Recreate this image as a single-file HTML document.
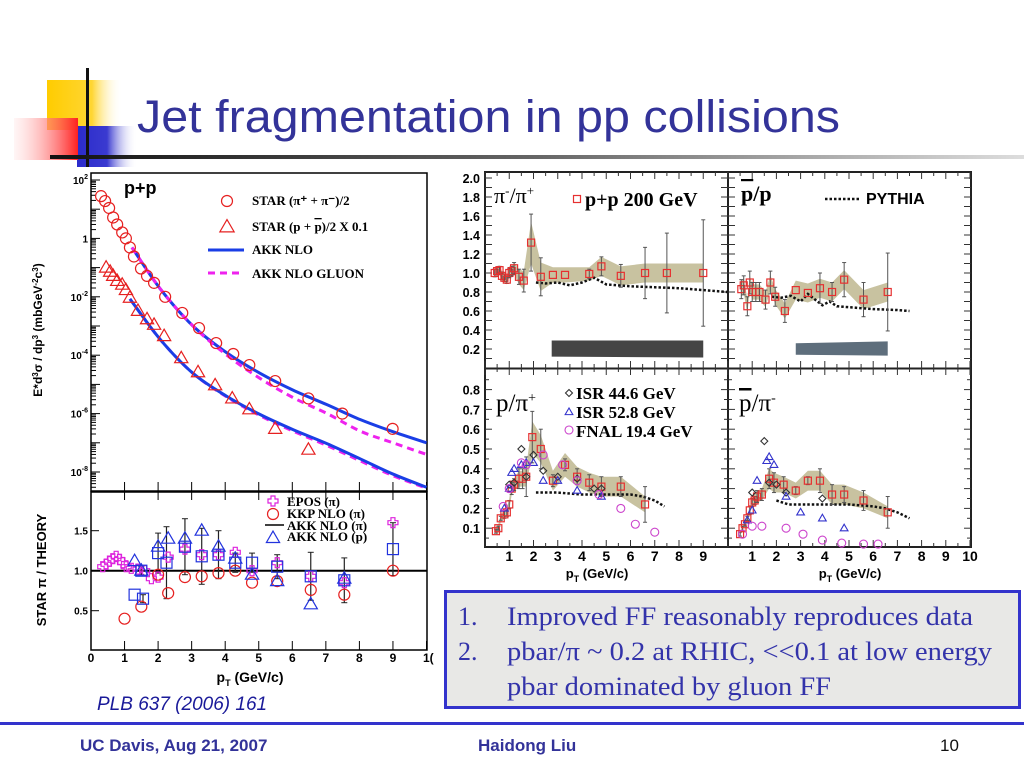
<!DOCTYPE html>
<html><head><meta charset="utf-8">
<style>
html,body{margin:0;padding:0;background:#fff;}
svg{display:block;}
text{font-family:"Liberation Sans",sans-serif;}
.tm{font-family:"Liberation Serif",serif;}
</style></head>
<body>
<svg id="s" width="1024" height="768" viewBox="0 0 1024 768" xmlns="http://www.w3.org/2000/svg">
<defs>
<linearGradient id="gy" x1="0" x2="1"><stop offset="0" stop-color="#ffcc00"/><stop offset="0.6" stop-color="#ffd633"/><stop offset="1" stop-color="#fff" stop-opacity="0"/></linearGradient>
<linearGradient id="gr" x1="1" x2="0"><stop offset="0" stop-color="#ff2020"/><stop offset="1" stop-color="#ffe0e0" stop-opacity="0.3"/></linearGradient>
<linearGradient id="gb" x1="0" x2="1"><stop offset="0" stop-color="#2b2bcc"/><stop offset="0.5" stop-color="#3a3ad0"/><stop offset="1" stop-color="#fff" stop-opacity="0"/></linearGradient>
<linearGradient id="gl" x1="0" x2="1"><stop offset="0" stop-color="#111"/><stop offset="0.5" stop-color="#666"/><stop offset="1" stop-color="#ddd"/></linearGradient>
</defs>
<g>
<rect x="47" y="80" width="75" height="50" fill="url(#gy)"/>
<rect x="77" y="126" width="60" height="44" fill="url(#gb)"/>
<rect x="14" y="118" width="64" height="42" fill="url(#gr)"/>
<rect x="86" y="68" width="3" height="104" fill="#111"/>
<rect x="50" y="155" width="974" height="4" fill="url(#gl)"/>
</g>
<text x="137" y="132" font-size="45" fill="#333399" textLength="703" lengthAdjust="spacingAndGlyphs">Jet fragmentation in pp collisions</text>

<rect x="62" y="167" width="370" height="525" fill="#fff"/>
<rect x="443" y="167" width="547" height="422" fill="#fff"/>
<g id="L"></g>
<g id="R"></g>
<g id="P"></g>

<text x="97" y="710" font-size="19" font-style="italic" fill="#1a1a99">PLB 637 (2006) 161</text>

<g>
<rect x="445.5" y="591.5" width="574" height="116" fill="#e8e8e6" stroke="#3333cc" stroke-width="3"/>
<text class="tm" x="458" y="625" font-size="26" fill="#3333aa">1.</text>
<text class="tm" x="507" y="625" font-size="26" fill="#3333aa" textLength="466" lengthAdjust="spacingAndGlyphs">Improved FF reasonably reproduces data</text>
<text class="tm" x="458" y="660" font-size="26" fill="#3333aa">2.</text>
<text class="tm" x="507" y="660" font-size="26" fill="#3333aa" textLength="485" lengthAdjust="spacingAndGlyphs">pbar/π ~ 0.2 at RHIC, &lt;&lt;0.1 at low energy</text>
<text class="tm" x="507" y="695" font-size="26" fill="#3333aa" textLength="324" lengthAdjust="spacingAndGlyphs">pbar dominated by gluon FF</text>
</g>

<rect x="0" y="722" width="1024" height="3" fill="#3333cc"/>
<text x="80" y="751" font-size="17" font-weight="bold" fill="#333399">UC Davis, Aug 21, 2007</text>
<text x="478" y="751" font-size="17" font-weight="bold" fill="#333399">Haidong Liu</text>
<text x="940" y="751" font-size="17" fill="#111">10</text>
</svg>
<script>
// ===== Left spectra data =====
const piPt=[0.3,0.42,0.54,0.66,0.78,0.93,1.04,1.16,1.28,1.49,1.67,1.88,2.21,2.72,3.22,3.73,4.24,4.72,5.49,6.48,7.49,8.99];
const piVal=[28,19,11,5.2,3.0,1.6,1.0,0.49,0.24,0.093,0.052,0.030,0.010,0.0028,8.5e-4,2.6e-4,1.1e-4,4.6e-5,1.3e-5,3.3e-6,1.0e-6,3.0e-7];
const prPt=[0.45,0.57,0.66,0.78,0.93,1.04,1.16,1.40,1.67,1.88,2.18,2.69,3.19,3.70,4.21,4.72,5.49,6.48];
const prVal=[0.1,0.072,0.052,0.035,0.026,0.017,0.0093,0.0033,0.0017,0.0011,4.5e-4,7.9e-5,2.6e-5,9.3e-6,3.3e-6,1.4e-6,3.0e-7,5.8e-8];
const curvePt=[1.22,2.06,3.04,4.05,5.04,6.03,7.04,8.03,9.0,10];
const akkPi=[0.49,0.019,1.0e-3,1.2e-4,2.4e-5,6.3e-6,2.0e-6,6.2e-7,2.4e-7,1.0e-7];
const gluPi=[0.49,0.019,1.0e-3,1.0e-4,1.6e-5,3.5e-6,1.0e-6,2.5e-7,1.0e-7,4.0e-8];
const curvePt2=[1.16,2.06,3.04,4.05,5.04,6.03,7.04,8.03,9.0,10];
const akkPr=[8.5e-3,3.5e-4,2.4e-5,3.9e-6,9.3e-7,2.8e-7,9.3e-8,2.8e-8,8.5e-9,3.0e-9];
const gluPr=[8.5e-3,3.5e-4,2.4e-5,3.7e-6,8.5e-7,2.5e-7,8.0e-8,2.4e-8,7.5e-9,2.8e-9];
const logTicks=[2,0,-2,-4,-6,-8];
// ===== Left ratio data =====
const sqPt=[1.3,1.55,1.5,2.0,2.25,2.8,3.3,3.8,4.3,4.8,5.55,6.55,7.55,9.0];
const sqVal=[0.7,0.65,1.0,1.22,1.1,1.3,1.18,1.2,1.1,1.1,1.05,0.93,0.88,1.27];
const sqErr=[0,0.05,0.05,0.25,0.45,0.35,0.35,0.3,0.12,0.12,0.15,0.3,0.28,0.33];
const ciPt=[1.0,1.5,2.0,2.3,2.8,3.3,3.8,4.3,4.8,5.55,6.55,7.55,9.0];
const ciVal=[0.4,0.55,0.95,0.72,0.92,0.93,0.97,1.0,0.85,0.87,0.76,0.7,1.0];
const crPt=[0.35,0.45,0.55,0.65,0.75,0.85,0.95,1.05,1.2,1.4,1.6,1.8,2.0,2.3,2.8,3.3,3.8,4.3,4.8,5.55,6.55,7.55,9.0];
const crVal=[1.05,1.08,1.12,1.15,1.18,1.14,1.1,1.05,1.03,1.02,1.0,0.9,0.92,1.17,1.27,1.2,1.2,1.23,1.0,1.1,0.93,0.85,1.6];
const trPt=[1.3,1.5,2.0,2.3,2.8,3.3,3.8,4.3,4.8,5.55,6.55,7.55];
const trVal=[1.12,1.0,1.3,1.4,1.4,1.5,1.3,1.15,0.95,0.87,0.58,0.9];
const ratioTicks=[0.5,1.0,1.5];
const xTicks=[0,1,2,3,4,5,6,7,8,9,10];
// ===== Right: pi-/pi+ =====
const aPt=[0.4,0.5,0.6,0.7,0.8,0.9,1.0,1.1,1.2,1.4,1.6,1.9,2.3,2.8,3.3,4.3,4.8,5.6,6.6,7.5,9.0];
const aVal=[1.0,1.02,1.03,0.97,0.95,0.93,1.0,1.02,1.05,0.96,0.92,1.32,0.96,0.98,0.98,0.99,1.07,0.97,1.0,1.0,1.0];
const aErr=[0.04,0.04,0.04,0.04,0.04,0.04,0.05,0.05,0.06,0.08,0.12,0.3,0.2,0,0,0.05,0.1,0.12,0.27,0.42,0.56];
const aBand=[0.05,0.05,0.05,0.05,0.05,0.05,0.05,0.05,0.06,0.08,0.1,0.22,0.15,0.08,0.08,0.07,0.1,0.1,0.1,0.1,0.1];
const aPyPt=[2.1,2.5,3,3.5,4,4.5,5,6,7,8,9,10];
const aPy=[0.9,0.89,0.9,0.87,0.9,0.95,0.88,0.86,0.85,0.84,0.82,0.8];
// ===== pbar/p =====
const bPt=[0.55,0.65,0.8,0.9,1.0,1.15,1.3,1.55,1.75,1.95,2.35,2.8,3.3,3.8,4.3,4.8,5.6,6.6];
const bVal=[0.83,0.87,0.65,0.9,0.8,0.8,0.8,0.72,0.9,0.75,0.6,0.82,0.79,0.84,0.8,0.93,0.72,0.8];
const bErr=[0.1,0.1,0.1,0.12,0.1,0.1,0.1,0.1,0.12,0.1,0.12,0,0,0.16,0.1,0.18,0.18,0.41];
const bBand=[0.08,0.08,0.08,0.08,0.08,0.08,0.08,0.08,0.08,0.08,0.08,0.1,0.1,0.1,0.1,0.1,0.1,0.1];
const bPyPt=[1.8,2.2,2.6,3.0,3.3,3.6,3.9,4.2,4.5,5,6,7,7.5];
const bPy=[0.75,0.74,0.76,0.7,0.78,0.72,0.66,0.7,0.65,0.64,0.62,0.61,0.6];
// ===== p/pi+ =====
const cPt=[0.45,0.55,0.65,0.8,0.9,1.0,1.1,1.2,1.4,1.55,1.7,1.95,2.3,2.8,3.3,3.8,4.3,4.8,5.6,6.6];
const cVal=[0.085,0.1,0.15,0.17,0.18,0.22,0.3,0.32,0.35,0.35,0.36,0.56,0.5,0.34,0.42,0.36,0.33,0.31,0.31,0.22];
const cErr=[0.01,0.01,0.01,0.02,0.02,0.02,0.03,0.03,0.05,0.05,0.1,0.13,0.1,0.03,0.03,0.04,0.04,0.05,0.05,0.09];
const cBand=[0.02,0.02,0.02,0.02,0.02,0.03,0.03,0.03,0.04,0.04,0.05,0.08,0.07,0.05,0.06,0.05,0.05,0.05,0.05,0.04];
const cIsr1Pt=[1.0,1.2,1.5,1.7,2.0,2.4,3.0,3.8,4.5,4.8];
const cIsr1=[0.32,0.33,0.5,0.36,0.47,0.39,0.36,0.35,0.3,0.3];
const cIsr2Pt=[0.8,1.0,1.1,1.2,1.5,1.7,2.0,2.4,3.0,3.8,4.8];
const cIsr2=[0.2,0.3,0.38,0.4,0.42,0.43,0.43,0.34,0.34,0.29,0.26];
const cFnPt=[0.75,1.0,1.5,1.7,2.4,3.2,3.8,4.7,5.6,6.2,7.0];
const cFn=[0.21,0.3,0.43,0.42,0.47,0.42,0.34,0.27,0.2,0.12,0.08];
const cPyPt=[2.1,3,4,5,6,6.5,7,7.4];
const cPy=[0.28,0.28,0.27,0.27,0.27,0.26,0.24,0.21];
// ===== pbar/pi- =====
const dPt=[0.5,0.6,0.7,0.8,0.9,1.0,1.1,1.2,1.4,1.7,1.9,2.3,2.8,3.3,3.8,4.3,4.8,5.6,6.6];
const dVal=[0.07,0.1,0.12,0.15,0.19,0.23,0.24,0.26,0.27,0.35,0.33,0.32,0.29,0.34,0.34,0.27,0.27,0.24,0.18];
const dErr=[0.01,0.01,0.01,0.01,0.02,0.02,0.02,0.03,0.03,0.05,0.05,0.04,0.02,0.02,0.06,0.05,0.04,0.05,0.08];
const dBand=[0.01,0.01,0.01,0.02,0.02,0.02,0.03,0.03,0.03,0.05,0.05,0.04,0.04,0.05,0.05,0.05,0.05,0.04,0.03];
const dIsr1Pt=[1.0,1.5,1.7,2.0,2.4,3.9];
const dIsr1=[0.28,0.54,0.33,0.32,0.28,0.25];
const dIsr2Pt=[0.8,1.0,1.2,1.6,1.7,1.9,2.4,3.0,3.9,4.8];
const dIsr2=[0.14,0.19,0.34,0.44,0.46,0.42,0.26,0.18,0.15,0.1];
const dFnPt=[0.6,1.0,1.4,2.4,3.1,3.9,4.7,5.6,6.2];
const dFn=[0.07,0.11,0.11,0.1,0.07,0.04,0.025,0.02,0.02];
const dPyPt=[2.0,2.5,3,4,5,6,6.5,7,7.5];
const dPy=[0.24,0.22,0.22,0.22,0.22,0.21,0.2,0.18,0.15];
const topTicks=[0.2,0.4,0.6,0.8,1.0,1.2,1.4,1.6,1.8,2.0];
const botTicks=[0.1,0.2,0.3,0.4,0.5,0.6,0.7,0.8];

const NS='http://www.w3.org/2000/svg';
function mk(parent,tag,attrs,txt){const e=document.createElementNS(NS,tag);for(const k in attrs)e.setAttribute(k,attrs[k]);if(txt!==undefined)e.textContent=txt;parent.appendChild(e);return e;}
function smooth(pts){let d='M'+pts[0][0]+','+pts[0][1];for(let i=0;i<pts.length-1;i++){const p0=pts[i-1]||pts[i],p1=pts[i],p2=pts[i+1],p3=pts[i+2]||p2;d+=' C'+(p1[0]+(p2[0]-p0[0])/6)+','+(p1[1]+(p2[1]-p0[1])/6)+' '+(p2[0]-(p3[0]-p1[0])/6)+','+(p2[1]-(p3[1]-p1[1])/6)+' '+p2[0]+','+p2[1];}return d;}
function marker(g,type,x,y,r,col,sw){
  let e;
  if(type==='circle')e=mk(g,'circle',{cx:x,cy:y,r:r,fill:'none',stroke:col,'stroke-width':sw});
  else if(type==='tri')e=mk(g,'polygon',{points:`${x},${y-r*1.15} ${x-r*1.1},${y+r*0.75} ${x+r*1.1},${y+r*0.75}`,fill:'none',stroke:col,'stroke-width':sw});
  else if(type==='square')e=mk(g,'rect',{x:x-r,y:y-r,width:2*r,height:2*r,fill:'none',stroke:col,'stroke-width':sw});
  else if(type==='cross'){const a=r*0.4;e=mk(g,'polygon',{points:`${x-a},${y-r} ${x+a},${y-r} ${x+a},${y-a} ${x+r},${y-a} ${x+r},${y+a} ${x+a},${y+a} ${x+a},${y+r} ${x-a},${y+r} ${x-a},${y+a} ${x-r},${y+a} ${x-r},${y-a} ${x-a},${y-a}`,fill:'none',stroke:col,'stroke-width':sw});}
  else if(type==='diamond')e=mk(g,'polygon',{points:`${x},${y-r} ${x+r},${y} ${x},${y+r} ${x-r},${y}`,fill:'none',stroke:col,'stroke-width':sw});
  return e;
}

// ===== LEFT SPECTRA =====
const L=document.getElementById('L');
const xL=p=>91+p*33.55;
const yU=v=>180-(Math.log10(v)-2)*29.2;
const yR=r=>570.7-(r-1)*80;
const frameU=mk(L,'rect',{x:91,y:173,width:336,height:318,fill:'none',stroke:'#000','stroke-width':1.5});


for(let dec=2;dec>=-9;dec--){for(let m=1;m<10;m++){const v=m*Math.pow(10,dec);const y=yU(v);if(y<174||y>490)continue;mk(L,'line',{x1:91,x2:91+(m===1?9:5),y1:y,y2:y,stroke:'#000','stroke-width':1});}}
logTicks.forEach(e=>{const y=yU(Math.pow(10,e));
  const t=mk(L,'text',{x:88,y:y+4,'font-size':10,'font-weight':'bold','text-anchor':'end'});
  
  
  if(e===0)t.textContent='1';else{t.textContent='10';mk(t,'tspan',{dy:-5,'font-size':7},String(e));}
});
xTicks.forEach(p=>{mk(L,'line',{x1:xL(p),x2:xL(p),y1:491,y2:482,stroke:'#000','stroke-width':1});});
const pp=mk(L,'text',{x:124,y:194,'font-size':18,'font-weight':'bold'},'p+p');


function curve(g,xs,vs,fx,fy,col,dash,name){const p=mk(g,'path',{d:smooth(xs.map((x,i)=>[fx(x),fy(vs[i])])),fill:'none',stroke:col,'stroke-width':3,'stroke-dasharray':dash||'none'});return p;}
curve(L,curvePt,akkPi,xL,yU,'#1a3ee6',null,'akk-nlo-pion-curve');
curve(L,curvePt,gluPi,xL,yU,'#ee22ee','7,5','akk-gluon-pion-curve');
curve(L,curvePt2,gluPr,xL,yU,'#ee22ee','7,5','akk-gluon-proton-curve');
curve(L,curvePt2,akkPr,xL,yU,'#1a3ee6',null,'akk-nlo-proton-curve');
piPt.forEach((p,i)=>{const m=marker(L,'circle',xL(p),yU(piVal[i]),5.5,'#e62020',1.2);
  
  });
prPt.forEach((p,i)=>{const m=marker(L,'tri',xL(p),yU(prVal[i]),6,'#e62020',1.2);
  
  });
// legend
const lg=mk(L,'g',{});


marker(lg,'circle',227,201,5.5,'#e62020',1.2);
mk(lg,'text',{class:'tm',x:252,y:205,'font-size':13,'font-weight':'bold'},'STAR (π⁺ + π⁻)/2');
marker(lg,'tri',227,227,6.5,'#e62020',1.2);
const t2=mk(lg,'text',{class:'tm',x:252,y:231,'font-size':13,'font-weight':'bold'},'STAR (p + ');
mk(t2,'tspan',{'text-decoration':'overline'},'p');mk(t2,'tspan',{},')/2 X 0.1');
mk(lg,'line',{x1:208,x2:244,y1:250,y2:250,stroke:'#1a3ee6','stroke-width':3});
mk(lg,'text',{class:'tm',x:252,y:254,'font-size':13,'font-weight':'bold'},'AKK  NLO');
mk(lg,'line',{x1:208,x2:244,y1:273,y2:273,stroke:'#ee22ee','stroke-width':3,'stroke-dasharray':'7,5'});
mk(lg,'text',{class:'tm',x:252,y:278,'font-size':13,'font-weight':'bold'},'AKK  NLO GLUON');
const yt=mk(L,'text',{x:0,y:0,'font-size':12,'font-weight':'bold','text-anchor':'middle',transform:'translate(42,330) rotate(-90)'});
yt.textContent='E*d';mk(yt,'tspan',{dy:-4,'font-size':8},'3');mk(yt,'tspan',{dy:4},'σ / dp');mk(yt,'tspan',{dy:-4,'font-size':8},'3');mk(yt,'tspan',{dy:4},' (mbGeV');mk(yt,'tspan',{dy:-4,'font-size':8},'-2');mk(yt,'tspan',{dy:4},'c');mk(yt,'tspan',{dy:-4,'font-size':8},'3');mk(yt,'tspan',{dy:4},')');



// ===== LEFT RATIO =====
const R=document.getElementById('R');
const fr=mk(R,'rect',{x:91,y:492,width:336,height:158,fill:'none',stroke:'#000','stroke-width':1.5});


xTicks.forEach(p=>{mk(R,'line',{x1:xL(p),x2:xL(p),y1:650,y2:641,stroke:'#000'});mk(R,'line',{x1:xL(p),x2:xL(p),y1:492,y2:500,stroke:'#000'});
  if(p<10){const t=mk(R,'text',{x:xL(p),y:662,'font-size':12,'font-weight':'bold','text-anchor':'middle'},String(p));
  
  }});
mk(R,'text',{x:423,y:662,'font-size':12,'font-weight':'bold'},'1(');
ratioTicks.forEach(r=>{mk(R,'line',{x1:91,x2:99,y1:yR(r),y2:yR(r),stroke:'#000'});
  const t=mk(R,'text',{x:88,y:yR(r)+4,'font-size':10,'font-weight':'bold','text-anchor':'end'},r.toFixed(1));
  
  });
const one=mk(R,'line',{x1:91,x2:427,y1:yR(1),y2:yR(1),stroke:'#000','stroke-width':2});


sqPt.forEach((p,i)=>{if(sqErr[i]>0){const x=xL(p);mk(R,'line',{x1:x,x2:x,y1:yR(sqVal[i]-sqErr[i]),y2:yR(sqVal[i]+sqErr[i]),stroke:'#222','stroke-width':1.2});
  mk(R,'line',{x1:x-3,x2:x+3,y1:yR(sqVal[i]-sqErr[i]),y2:yR(sqVal[i]-sqErr[i]),stroke:'#222'});mk(R,'line',{x1:x-3,x2:x+3,y1:yR(sqVal[i]+sqErr[i]),y2:yR(sqVal[i]+sqErr[i]),stroke:'#222'});}});
crPt.forEach((p,i)=>{const m=marker(R,'cross',xL(p),yR(crVal[i]),5,'#dd22dd',1.2);
  
  });
ciPt.forEach((p,i)=>{const m=marker(R,'circle',xL(p),yR(ciVal[i]),5.5,'#e62020',1.2);
  
  });
sqPt.forEach((p,i)=>{const m=marker(R,'square',xL(p),yR(sqVal[i]),5.5,'#2233dd',1.2);
  
  });
trPt.forEach((p,i)=>{const m=marker(R,'tri',xL(p),yR(trVal[i]),6,'#2233dd',1.2);
  
  });
const rl=mk(R,'g',{});


marker(rl,'cross',273,501,5,'#dd22dd',1.2);
mk(rl,'text',{class:'tm',x:287,y:506,'font-size':13,'font-weight':'bold'},'EPOS (π)');
marker(rl,'circle',273,514,5.5,'#e62020',1.2);
mk(rl,'text',{class:'tm',x:287,y:518,'font-size':13,'font-weight':'bold'},'KKP NLO (π)');
mk(rl,'line',{x1:265,x2:284,y1:525,y2:525,stroke:'#000','stroke-width':1.5});
mk(rl,'text',{class:'tm',x:287,y:530,'font-size':13,'font-weight':'bold'},'AKK NLO (π)');
marker(rl,'tri',273,538,6,'#2233dd',1.2);
mk(rl,'text',{class:'tm',x:287,y:541,'font-size':13,'font-weight':'bold'},'AKK NLO (p)');
const xt=mk(R,'text',{x:250,y:682,'font-size':14,'font-weight':'bold','text-anchor':'middle'},'p');
mk(xt,'tspan',{dy:4,'font-size':9},'T');mk(xt,'tspan',{dy:-4},' (GeV/c)');


const ry=mk(R,'text',{x:0,y:0,'font-size':13,'font-weight':'bold','text-anchor':'middle',transform:'translate(46,570) rotate(-90)'},'STAR π / THEORY');



// ===== RIGHT 4-PANEL =====
const P=document.getElementById('P');
const xA=p=>485+p*24.25, xB=p=>728+p*24.2;
const yT=v=>368-v*95, yB=v=>548-v*198;
const box=mk(P,'rect',{x:485,y:172,width:486,height:375,fill:'none',stroke:'#222','stroke-width':2});


mk(P,'line',{x1:485,x2:971,y1:368.5,y2:368.5,stroke:'#222','stroke-width':2});
mk(P,'line',{x1:728,x2:728,y1:172,y2:547,stroke:'#222','stroke-width':2});
// ticks
for(let p=0;p<=10;p+=0.5){[xA,xB].forEach(f=>{const x=f(p);const L2=p%1===0?7:4;
  [[172,172+L2],[368,368-L2],[368,368+L2],[547,547-L2]].forEach(a=>mk(P,'line',{x1:x,x2:x,y1:a[0],y2:a[1],stroke:'#333'}));});}
for(let v=0.1;v<2.05;v+=0.1){const y=yT(v);[[485,492],[728,721],[728,735],[971,964]].forEach(a=>mk(P,'line',{x1:a[0],x2:a[1],y1:y,y2:y,stroke:'#333'}));}
for(let v=0.05;v<0.9;v+=0.05){const y=yB(v);const L2=Math.round(v*100)%10===0?7:4;[[485,485+L2],[728,728-L2],[728,728+L2],[971,971-L2]].forEach(a=>mk(P,'line',{x1:a[0],x2:a[1],y1:y,y2:y,stroke:'#333'}));}
topTicks.forEach(v=>{const t=mk(P,'text',{x:480,y:yT(v)+5,'font-size':12.5,'font-weight':'bold','text-anchor':'end'},v.toFixed(1));
  
  });
botTicks.forEach(v=>{const t=mk(P,'text',{x:480,y:yB(v)+5,'font-size':12.5,'font-weight':'bold','text-anchor':'end'},v.toFixed(1));
  
  });
[1,2,3,4,5,6,7,8,9].forEach(p=>{const t=mk(P,'text',{x:xA(p),y:561,'font-size':14,'font-weight':'bold','text-anchor':'middle'},String(p));
  
  });
[1,2,3,4,5,6,7,8,9,10].forEach(p=>{const t=mk(P,'text',{x:xB(p),y:561,'font-size':14,'font-weight':'bold','text-anchor':'middle'},String(p));
  
  });
[597,850].forEach(cx=>{const t=mk(P,'text',{x:cx,y:578,'font-size':13,'font-weight':'bold','text-anchor':'middle'},'p');
  mk(t,'tspan',{dy:4,'font-size':9},'T');mk(t,'tspan',{dy:-4},' (GeV/c)');
  
  });

function panel(name,fx,fy,pt,val,err,band,pyPt,py){
  const g=mk(P,'g',{});
  
  
  const up=pt.map((p,i)=>fx(p)+','+fy(val[i]+band[i])),dn=pt.map((p,i)=>fx(p)+','+fy(val[i]-band[i])).reverse();
  const bd=mk(g,'polygon',{points:up.concat(dn).join(' '),fill:'#c8c2a0'});
  
  
  const pl=mk(g,'polyline',{points:pyPt.map((p,i)=>fx(p)+','+fy(py[i])).join(' '),fill:'none',stroke:'#111','stroke-width':2.5,'stroke-dasharray':'2.5,2'});
  
  
  pt.forEach((p,i)=>{const x=fx(p);if(err[i]>0){mk(g,'line',{x1:x,x2:x,y1:fy(val[i]-err[i]),y2:fy(val[i]+err[i]),stroke:'#555','stroke-width':1});
    mk(g,'line',{x1:x-2,x2:x+2,y1:fy(val[i]-err[i]),y2:fy(val[i]-err[i]),stroke:'#555'});mk(g,'line',{x1:x-2,x2:x+2,y1:fy(val[i]+err[i]),y2:fy(val[i]+err[i]),stroke:'#555'});}
    const m=marker(g,'square',x,fy(val[i]),3.5,'#e63030',1.2);
    
    });
  return g;
}
// systematic bars
const sb1=mk(P,'polygon',{points:`${xA(2.75)},${yT(0.29)} ${xA(9)},${yT(0.29)} ${xA(9)},${yT(0.11)} ${xA(2.75)},${yT(0.12)}`,fill:'#454545'});


const sb2=mk(P,'polygon',{points:`${xB(2.8)},${yT(0.26)} ${xB(6.6)},${yT(0.28)} ${xB(6.6)},${yT(0.13)} ${xB(2.8)},${yT(0.14)}`,fill:'#5e6e7c'});


panel('pion-ratio-panel',xA,yT,aPt,aVal,aErr,aBand,aPyPt,aPy);
panel('pbar-p-panel',xB,yT,bPt,bVal,bErr,bBand,bPyPt,bPy);
function extra(fx,fy,pts,vals,type,col,name){pts.forEach((p,i)=>{const m=marker(P,type,fx(p),fy(vals[i]),type==='circle'?4:3.5,col,1.1);
  
  });}
const gc=panel('p-pi-panel',xA,yB,cPt,cVal,cErr,cBand,cPyPt,cPy);
extra(xA,yB,cIsr1Pt,cIsr1,'diamond','#333','isr-44-point');
extra(xA,yB,cIsr2Pt,cIsr2,'tri','#3333cc','isr-52-point');
extra(xA,yB,cFnPt,cFn,'circle','#cc44cc','fnal-point');
panel('pbar-pi-panel',xB,yB,dPt,dVal,dErr,dBand,dPyPt,dPy);
extra(xB,yB,dIsr1Pt,dIsr1,'diamond','#333','isr-44-point');
extra(xB,yB,dIsr2Pt,dIsr2,'tri','#3333cc','isr-52-point');
extra(xB,yB,dFnPt,dFn,'circle','#cc44cc','fnal-point');
// labels
const lab=mk(P,'g',{});


let t=mk(lab,'text',{class:'tm',x:494,y:203,'font-size':22},'π');mk(t,'tspan',{dy:-8,'font-size':13},'-');mk(t,'tspan',{dy:8},'/π');mk(t,'tspan',{dy:-8,'font-size':13},'+');
marker(lab,'square',577,199,3.5,'#e63030',1.2);
mk(lab,'text',{class:'tm',x:585,y:206,'font-size':20,'font-weight':'bold'},'p+p 200 GeV');
t=mk(lab,'text',{class:'tm',x:741,y:201,'font-size':22,'font-weight':'bold'});mk(t,'tspan',{'text-decoration':'overline'},'p');mk(t,'tspan',{},'/p');
mk(lab,'line',{x1:825,x2:860,y1:199,y2:199,stroke:'#111','stroke-width':2.5,'stroke-dasharray':'2.5,2'});
mk(lab,'text',{x:866,y:204,'font-size':16,'font-weight':'bold'},'PYTHIA');
t=mk(lab,'text',{class:'tm',x:496,y:411,'font-size':25},'p/π');mk(t,'tspan',{dy:-9,'font-size':14},'+');
marker(lab,'diamond',569,393,3.5,'#333',1.1);
mk(lab,'text',{class:'tm',x:576,y:399,'font-size':17,'font-weight':'bold'},'ISR 44.6 GeV');
marker(lab,'tri',569,412,3.5,'#3333cc',1.1);
mk(lab,'text',{class:'tm',x:576,y:418,'font-size':17,'font-weight':'bold'},'ISR 52.8 GeV');
marker(lab,'circle',569,430,4,'#cc44cc',1.1);
mk(lab,'text',{class:'tm',x:576,y:437,'font-size':17,'font-weight':'bold'},'FNAL 19.4 GeV');
t=mk(lab,'text',{class:'tm',x:739,y:411,'font-size':25});mk(t,'tspan',{'text-decoration':'overline'},'p');mk(t,'tspan',{},'/π');mk(t,'tspan',{dy:-9,'font-size':14},'-');
</script>
</body></html>
